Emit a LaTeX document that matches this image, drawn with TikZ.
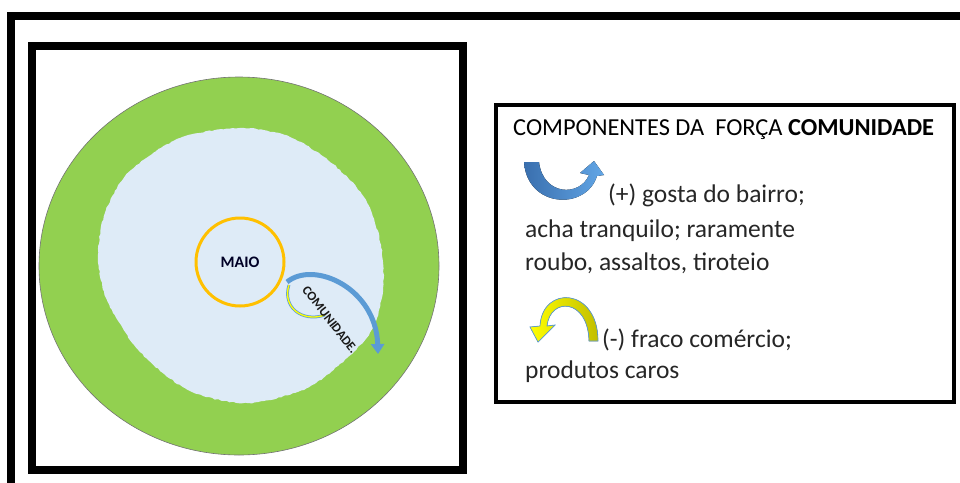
\documentclass[tikz,border=0pt]{standalone}
\usepackage{fontspec}
\setmainfont{Carlito}
\usetikzlibrary{arrows.meta,decorations.pathmorphing}
\definecolor{mgreen}{HTML}{92D050}
\definecolor{mblob}{HTML}{DEEBF7}
\definecolor{morange}{HTML}{FFC000}
\definecolor{mblue}{HTML}{5B9BD5}
\definecolor{mbluedark}{HTML}{3A6FAE}
\definecolor{mbluelight}{HTML}{62A6E6}
\definecolor{myellow}{HTML}{FFFF00}
\definecolor{molive}{HTML}{C2BE00}
\tikzset{
  mframe/.style={line width=8pt, draw=black, line cap=butt},
  mbox/.style={line width=4pt, draw=black},
  mring/.style={fill=mgreen, draw=black!55, line width=0.6pt},
  mcore/.style={fill=mblob, draw=none, decorate,
    decoration={random steps, segment length=3pt, amplitude=0.6pt}},
  mcity/.style={circle, draw=morange, line width=3pt, minimum size=88pt, inner sep=0pt},
  mloop/.style={line width=5pt, draw=mblue, -{Triangle[width=13pt,length=10pt]}},
  mhead/.style={anchor=base west, inner sep=0pt, font=\fontsize{24.4}{28}\selectfont},
  mtext/.style={anchor=base west, inner sep=0pt, text=black!85, font=\fontsize{25.5}{30}\selectfont},
}
\begin{document}
\begin{tikzpicture}[x=1pt,y=-1pt]
\pgfmathsetseed{7}
\useasboundingbox (0,0) rectangle (960,482);
% frames
\draw[mframe] (11,490) -- (11,16) -- (970,16);
\draw[mframe] (31.5,45.5) rectangle (462.5,470);
\draw[mbox] (496,105) rectangle (954,401.5);
% territory
\draw[mring] (239,266) ellipse[x radius=200, y radius=189];
\fill[mcore] plot[smooth cycle] coordinates {
  (180,138) (240,128) (290,137) (333,164) (366,200) (381,245) (383,288)
  (373,328) (347,358) (307,388) (248,403) (190,391) (140,352) (107,300)
  (98,255) (106,210) (130,171)};
\node[mcity] (city) at (240,262) {};
\node[font=\bfseries\fontsize{16}{16}\selectfont, text=black!85!blue] (maio) at (city) {MAIO};
% force arrow
\coordinate (ls) at (289,285);
\coordinate (le) at (325,315);
\draw[mblue, line width=2.8pt] (ls) .. controls (282,306) and (301,323) .. (le);
\draw[myellow, line width=1.3pt] (ls) .. controls (282,306) and (301,323) .. (le);
\coordinate (as) at (287,282);
\coordinate (ae) at (378,354);
\draw[mloop] (as) .. controls (314,260) and (376,288) .. (ae);
\node[rotate=-52, inner sep=0pt, font=\bfseries\fontsize{13}{13}\selectfont, text=black!90] (comu) at (330,320) {COMUNIDADE.};
% legend
\node[mhead] (head) at (513,135) {COMPONENTES DA\ \ FORÇA \textbf{COMUNIDADE}};
\fill[left color=mbluedark, right color=mbluelight]
  (524,162) .. controls (527,208) and (586,211) .. (597,176)
  -- (604,175) -- (594,161) -- (580,173) -- (589,175)
  .. controls (580,197) and (543,196) .. (539,162) -- cycle;
\node[mtext] (plus) at (608,202) {(+) gosta do bairro;};
\node[mtext] (plusb) at (525,237) {acha tranquilo; raramente};
\node[mtext] (plusc) at (525,270) {roubo, assaltos, tiroteio};
\filldraw[draw=mblue, line width=0.7pt, left color=myellow, right color=molive]
  (598,341) .. controls (598,287) and (542,285) .. (540,326)
  -- (530,327) -- (538,342) -- (555,325) -- (547,326)
  .. controls (550,297) and (588,298) .. (589,341) -- cycle;
\node[mtext] (minus) at (602,347) {(-) fraco comércio;};
\node[mtext] (minusb) at (525,378) {produtos caros};
\end{tikzpicture}
\end{document}
